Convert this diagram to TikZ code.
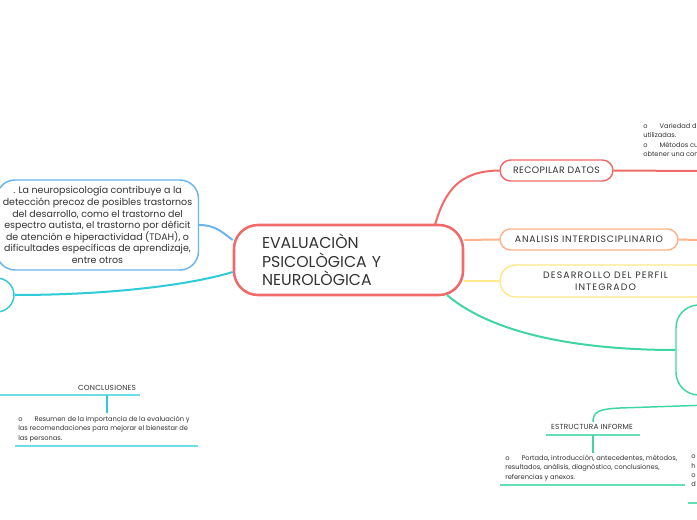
\documentclass[tikz,border=0pt]{standalone}
\usepackage{fontspec}
\setmainfont{Poppins}
\definecolor{txt}{HTML}{333333}
\definecolor{cred}{HTML}{F06A6A}
\definecolor{cblue}{HTML}{6AB4F0}
\definecolor{ccyan}{HTML}{2ECBD8}
\definecolor{ccyanl}{HTML}{6FDDE3}
\definecolor{corange}{HTML}{FFB38A}
\definecolor{cyellow}{HTML}{FFE98A}
\definecolor{cgreen}{HTML}{3FD6A4}
\begin{document}
\begin{tikzpicture}[x=0.75pt,y=-0.75pt,
  every node/.style={text=txt},
  topicbox/.style={draw, rounded corners=#1, line width=1.1pt, fill=white, inner sep=0pt, align=center},
  conn/.style={line width=1.5pt},
  uline/.style={line width=1.5pt},
  bigtxt/.style={font=\fontsize{11.8}{13.9}\selectfont},
  midtxt/.style={font=\fontsize{7}{9}\selectfont\addfontfeatures{LetterSpace=#1}},
  smalltxt/.style={font=\fontsize{5.5}{7}\selectfont\addfontfeatures{LetterSpace=3}},
  paratxt/.style={font=\fontsize{5}{7}\selectfont, align=left, anchor=north west, inner sep=0pt},
  ]
\useasboundingbox (0,0) rectangle (697,520);
\clip (0,0) rectangle (697,520);
\fill[white] (0,0) rectangle (697,520);

% nodes
\node[topicbox=18pt, draw=cred, line width=1.9pt, minimum width={229*0.75pt}, minimum height={70*0.75pt},
      text width={173*0.75pt}, align=left, inner xsep={28*0.75pt}, bigtxt] (central) at (348.5,260)
  {EVALUACIÒN\\PSICOLÒGICA Y\\NEUROLÒGICA};

\node[topicbox=14pt, draw=cblue, minimum width={202*0.75pt}, minimum height={90*0.75pt},
      font=\fontsize{7.1}{8.7}\selectfont] (blue) at (97.5,225)
  {. La neuropsicología contribuye a la\\detección precoz de posibles trastornos\\del desarrollo, como el trastorno del\\espectro autista, el trastorno por déficit\\de atención e hiperactividad (TDAH), o\\dificultades específicas de aprendizaje,\\entre otros};

\node[topicbox=13pt, draw=ccyan, minimum width={74*0.75pt}, minimum height={34*0.75pt}] (cyannode) at (-23,295) {};

\node[topicbox=8pt, draw=cred, minimum width={113*0.75pt}, minimum height={21*0.75pt}, midtxt=4] (recop) at (556.5,170.5) {RECOPILAR DATOS};
\node[topicbox=8pt, draw=corange, minimum width={178*0.75pt}, minimum height={21*0.75pt}, midtxt=8] (anal) at (589,239.5) {ANALISIS INTERDISCIPLINARIO};
\node[topicbox=12pt, draw=cyellow, minimum width={211*0.75pt}, minimum height={32*0.75pt}, midtxt=12] (desar) at (605.5,281) {DESARROLLO DEL PERFIL\\INTEGRADO};
\node[topicbox=17pt, draw=cgreen, minimum width={68*0.75pt}, minimum height={90*0.75pt}] (green) at (710,350) {};

% connectors from central
\draw[conn, cblue] (blue.east |- 0,225) .. controls (215,225) and (222,232) .. (central.west |- 0,240);
\draw[conn, ccyan] (cyannode.east) .. controls (110,295) and (190,285) .. (central.west |- 0,272);
\draw[conn, cred] (435,225) .. controls (445,190) and (460,171) .. (recop.west);
\draw[conn, corange] (central.east |- 0,240) -- (anal.west);
\draw[conn, cyellow] (central.east |- 0,281) -- (desar.west);
\draw[conn, cgreen] (447,295) .. controls (500,340) and (600,350) .. (green.west);

% right continuations
\draw[conn, cred] (recop.east) -- (697,171);
\draw[conn, corange] (anal.east) -- (697,240);

\node[paratxt] (recoptxt) at (643,123)
  {o\hspace{9pt}Variedad d\\utilizadas.\\o\hspace{9pt}Métodos cu\\obtener una con};

% conclusiones
\node[smalltxt, inner sep=0pt] (concl) at (107,388) {CONCLUSIONES};
\coordinate (conclL) at (0,395);
\coordinate (conclR) at (140,395);
\draw[uline, ccyanl] (conclL) -- (conclR);
\coordinate (conclT) at (107,395);
\coordinate (conclB) at (107,413);
\draw[line width=1.1pt, ccyan] (conclT) -- (conclB);
\node[paratxt] (concltxt) at (18,416)
  {o\hspace{9pt}Resumen de la importancia de la evaluación y\\las recomendaciones para mejorar el bienestar de\\las personas.};
\coordinate (cp1) at (15,446);
\coordinate (cp2) at (198,446);
\draw[uline, ccyanl] (cp1) -- (cp2);

% estructura informe
\coordinate (estop) at (593,422);
\draw[line width=1.1pt, cgreen] (green.south) -- (710,405) -- (620,408) .. controls (598,409) and (593,412) .. (estop);
\node[smalltxt, inner sep=0pt] (estr) at (592,427) {ESTRUCTURA INFORME};
\coordinate (eu1) at (546,435);
\coordinate (eu2) at (640,435);
\draw[uline, cgreen!80] (eu1) -- (eu2);
\coordinate (ev2) at (593,453);
\coordinate (ev1) at (593,435);
\draw[line width=1.1pt, cgreen] (ev1) -- (ev2);
\node[paratxt] (estrtxt) at (505,455)
  {o\hspace{9pt}Portada, introducción, antecedentes, métodos,\\resultados, análisis, diagnóstico, conclusiones,\\referencias y anexos.};
\coordinate (ep1) at (500,485);
\coordinate (ep2) at (685,485);
\draw[uline, cgreen!80] (ep1) -- (ep2);

\node[paratxt] (righttxt) at (691,455) {o\\h\\o\\d};
\coordinate (rp1) at (688,503);
\coordinate (rp2) at (697,503);
\draw[uline, cgreen!80] (rp1) -- (rp2);
\end{tikzpicture}
\end{document}
